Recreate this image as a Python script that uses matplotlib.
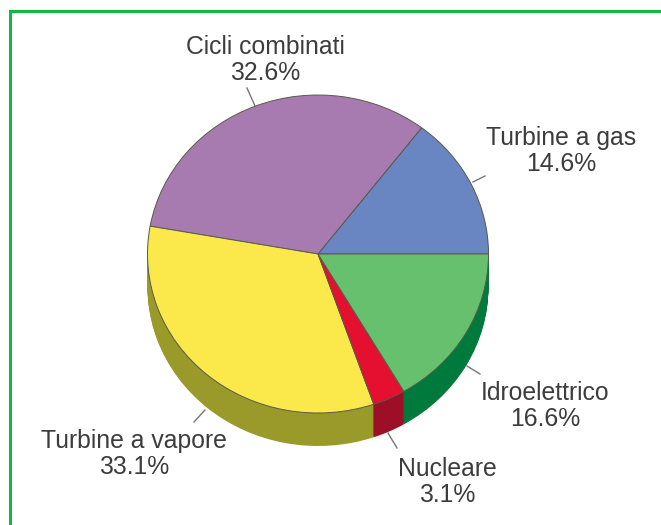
import numpy as np
import matplotlib
matplotlib.use("Agg")
import matplotlib.pyplot as plt
from matplotlib.patches import Rectangle

labels = ["Turbine a gas", "Cicli combinati", "Turbine a vapore", "Nucleare", "Idroelettrico"]
values = [14.6, 32.6, 33.1, 3.1, 16.6]
top_colors = ["#6a86c2", "#a87bb0", "#fbe84a", "#e5102f", "#66c06e"]
side_colors = ["#4a5e88", "#75567b", "#9a9a2a", "#9c0f26", "#007a3c"]

W, H = 661, 525
CX, CY, RX, RY, DEPTH = 318, 254, 170.5, 159, 33
fig = plt.figure(figsize=(W/100, H/100), dpi=100, facecolor="white")

# Axes in which the pie has radius 1; its box is squashed so the circle becomes an ellipse
bg = fig.add_axes([0, 0, 1, 1])
bg.set_xlim(0, W); bg.set_ylim(H, 0); bg.axis("off")

ax = fig.add_axes([0, 0, 1, 1])
ax.patch.set_alpha(0)

# extruded side: stacked copies of the pie
for d in np.arange(DEPTH, 0, -1.0):
    ax.pie(values, colors=side_colors, startangle=0, counterclock=True, radius=1,
           center=(0, -d/RY), wedgeprops=dict(linewidth=0))
ax.pie(values, colors=top_colors, startangle=0, counterclock=True, radius=1,
       wedgeprops=dict(linewidth=0.7, edgecolor="#5a5a4a"))
ax.set_aspect("auto")
ax.set_xlim(-CX/RX, (W-CX)/RX)
ax.set_ylim(-(H-CY)/RY, CY/RY)
ax.axis("off")

# frame
for r in [Rectangle((9, 10), 3.3, H-10), Rectangle((9, 10), W-9, 3)]:
    r.set(facecolor="#14b83c", edgecolor="none")
    bg.add_patch(r)

# labels
pos = [(561, 151), (265, 60), (134, 454), (447, 482), (545, 406)]
ticks = [((473, 182), (485, 176)), ((255, 106), (247, 88)), ((205, 410), (194, 422)),
         ((388, 433), (397, 448)), ((467, 366), (480, 374))]
for lab, v, (x, y), (a, b) in zip(labels, values, pos, ticks):
    bg.text(x, y, f"{lab}\n{v}%", ha="center", va="center", fontsize=17.8,
            family="Liberation Sans", color="#3c3c3c", linespacing=1.15)
    bg.plot([a[0], b[0]], [a[1], b[1]], color="#777777", lw=1)

fig.savefig("out.png", dpi=100)
